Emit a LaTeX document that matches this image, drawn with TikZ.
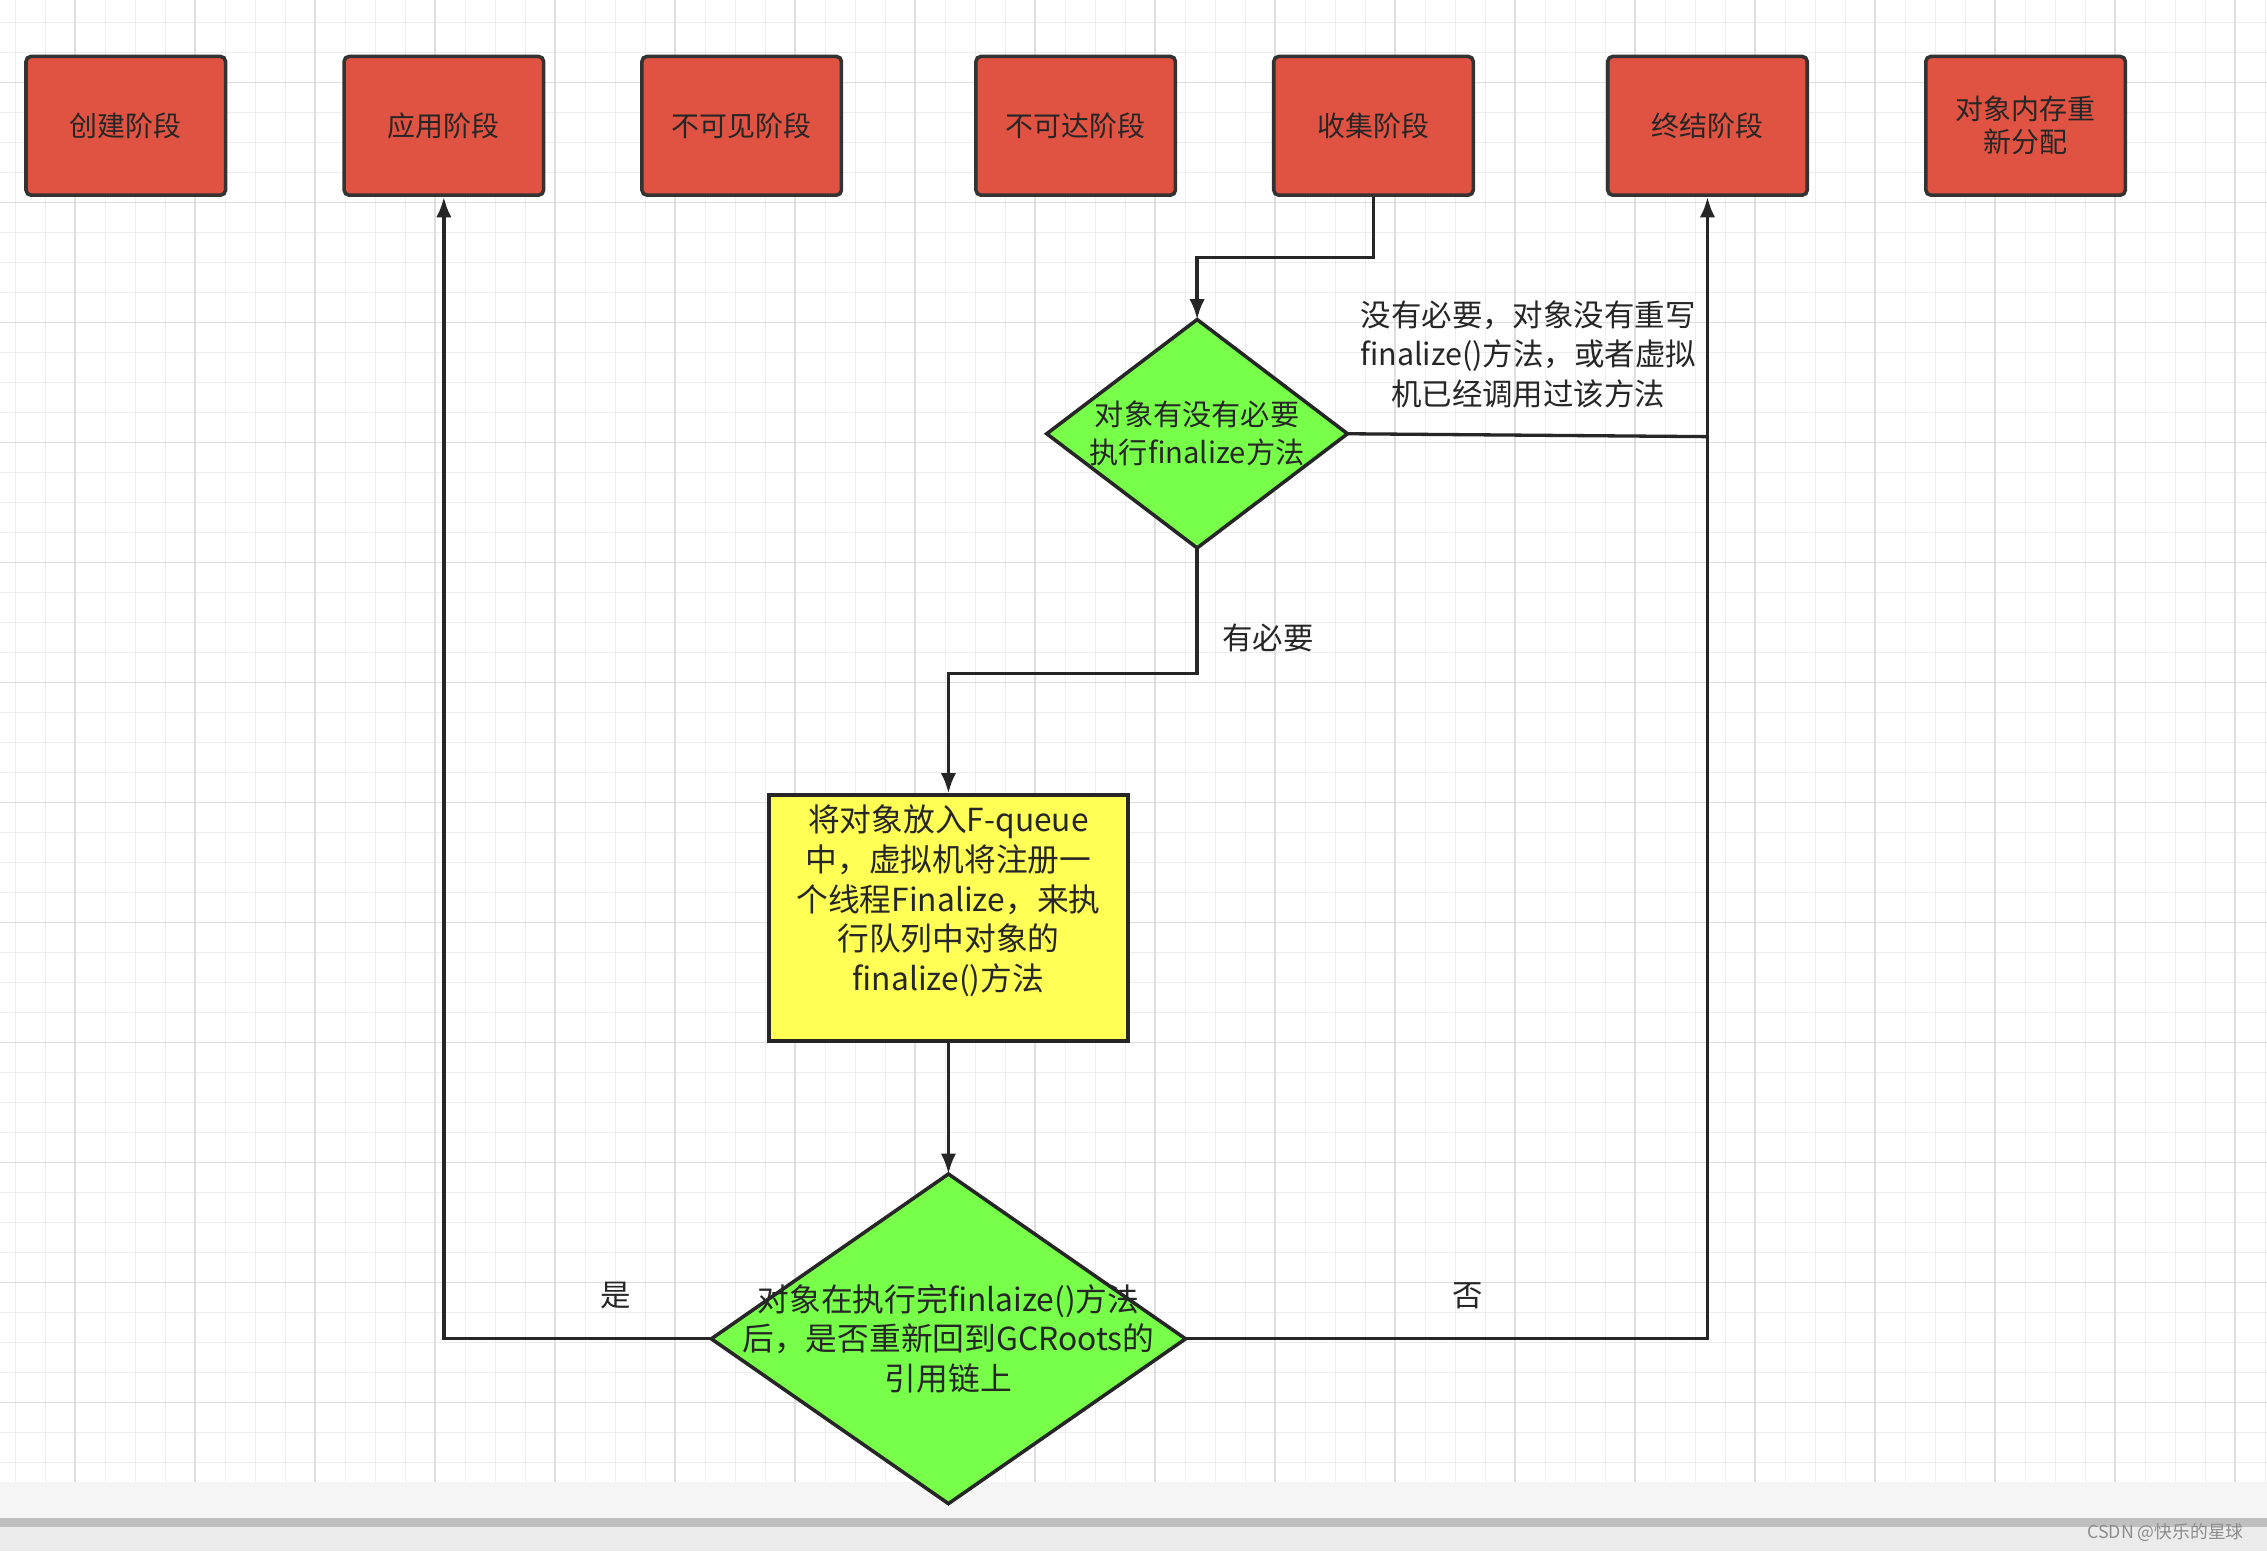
\documentclass[tikz,border=0pt]{standalone}
\usepackage{fontspec}
\setmainfont{Noto Sans CJK SC}
\usetikzlibrary{shapes.geometric,arrows.meta}
\definecolor{redbox}{HTML}{E05242}
\definecolor{greend}{HTML}{77FF4A}
\definecolor{yel}{HTML}{FFFF55}
\begin{document}
\begin{tikzpicture}[x=0.02cm,y=-0.02cm,
  stage/.style={draw=black!80,line width=1.4pt,fill=redbox,rounded corners=2pt,minimum width=138*0.02cm,minimum height=96*0.02cm,align=center,font=\fontsize{11}{13}\selectfont,text=black!85},
  diashape/.style={draw=black!85,line width=1.4pt,fill=greend,line join=miter},
  dtext/.style={align=center,text=black!85},
  conn/.style={draw=black!85,line width=1.3pt},
  arr/.style={conn,-{Latex[length=8pt,width=6pt]}},
  lbl/.style={font=\fontsize{12}{15.5}\selectfont,text=black!85,align=center}]
\useasboundingbox (0,0) rectangle (1568,1073);
\fill[white] (0,0) rectangle (1568,1073);
\foreach \x in {10.5,31.25,...,1568} \draw[black!7,line width=0.4pt] (\x,0) -- (\x,1025);
\foreach \y in {15.5,36.25,...,1025} \draw[black!7,line width=0.4pt] (0,\y) -- (1568,\y);
\foreach \x in {52,135,...,1568} \draw[black!13,line width=0.6pt] (\x,0) -- (\x,1025);
\foreach \y in {57,140,...,1025} \draw[black!13,line width=0.6pt] (0,\y) -- (1568,\y);
\fill[black!4] (0,1025) rectangle (1568,1073);
\fill[black!25] (0,1050) rectangle (1568,1056);
\fill[black!8] (0,1056) rectangle (1568,1073);
\node[font=\fontsize{7}{8}\selectfont,text=black!45,anchor=east] (wm) at (1558,1060) {CSDN @快乐的星球};

\node[stage] (s1) at (87,87) {创建阶段};
\node[stage] (s2) at (307,87) {应用阶段};
\node[stage] (s3) at (513,87) {不可见阶段};
\node[stage] (s4) at (744,87) {不可达阶段};
\node[stage] (s5) at (950,87) {收集阶段};
\node[stage] (s6) at (1181,87) {终结阶段};
\node[stage] (s7) at (1401,87) {对象内存重\\新分配};

% diamond 1
\coordinate (d1n) at (828,221); \coordinate (d1s) at (828,379);
\coordinate (d1w) at (724,300); \coordinate (d1e) at (932,300);
\draw[diashape] (d1n) -- (d1e) -- (d1s) -- (d1w) -- cycle;
\node[dtext,font=\fontsize{11.5}{15}\selectfont] (d1) at (828,300) {对象有没有必要\\执行finalize方法};

\node[draw=black!85,line width=1.4pt,fill=yel,minimum width=248*0.02cm,minimum height=170*0.02cm] (q) at (656,635) {};
\node[font=\fontsize{12.5}{15.7}\selectfont,text=black!85,align=center] (qt) at (656,623) {将对象放入F-queue\\中，虚拟机将注册一\\个线程Finalize，来执\\行队列中对象的\\finalize()方法};

% diamond 2
\coordinate (d2n) at (656,812); \coordinate (d2s) at (656,1040);
\coordinate (d2w) at (492,926); \coordinate (d2e) at (820,926);
\draw[diashape] (d2n) -- (d2e) -- (d2s) -- (d2w) -- cycle;
\node[dtext,font=\fontsize{12.5}{15.7}\selectfont] (d2) at (656,926) {对象在执行完finlaize()方法\\后，是否重新回到GCRoots的\\引用链上};

\coordinate (j1) at (1181,302);
\draw[arr] (s5.south) |- (828,178) -- (d1n);
\draw[conn] (d1e) -- (j1);
\draw[arr] (d2e) -- (1181,926) -- (s6.south);
\draw[arr] (d1s) |- (656,466) -- (q.north);
\draw[arr] (q.south) -- (d2n);
\draw[arr] (d2w) -| (s2.south);

\node[lbl] (l1) at (1057,245) {没有必要，对象没有重写\\finalize()方法，或者虚拟\\机已经调用过该方法};
\node[lbl] (l2) at (877,441) {有必要};
\node[lbl] (l3) at (426,896) {是};
\node[lbl] (l4) at (1015,896) {否};
\end{tikzpicture}
\end{document}
